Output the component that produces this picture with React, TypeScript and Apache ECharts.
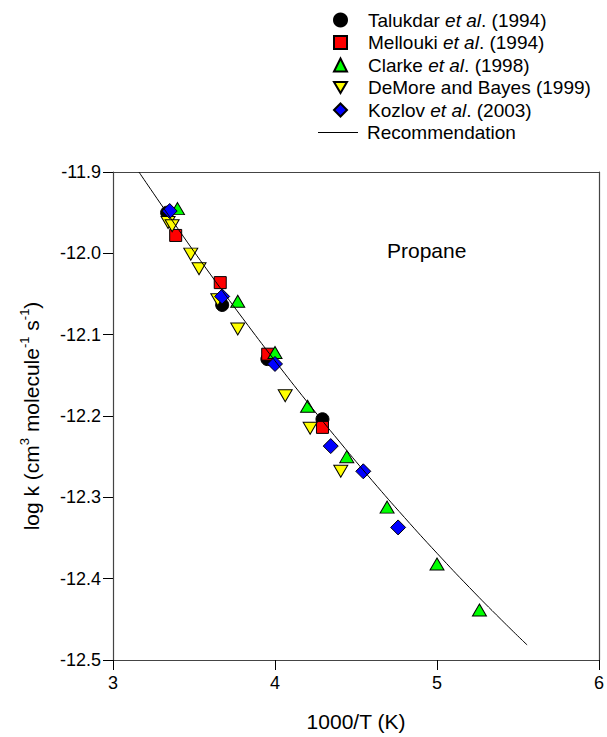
import React, { useEffect, useRef } from "react";
import * as echarts from "echarts";

const FONT = "Liberation Sans";

const talukdarX = [3.334, 3.674, 3.953, 4.293];
const talukdarY = [-11.95, -12.0635, -12.13, -12.204];

const melloukiX = [3.387, 3.662, 3.955, 4.293];
const melloukiY = [-11.978, -12.036, -12.124, -12.214];

const clarkeX = [3.398, 3.77, 4.0, 4.201, 4.443, 4.692, 5.0, 5.262];
const clarkeY = [-11.945, -12.059, -12.122, -12.188, -12.25, -12.312, -12.382, -12.4385];

const demoreX = [3.34, 3.365, 3.48, 3.531, 3.647, 3.77, 4.063, 4.217, 4.406];
const demoreY = [-11.962, -11.966, -12.001, -12.019, -12.057, -12.093, -12.175, -12.215, -12.268];

const kozlovX = [3.35, 3.674, 4.0, 4.344, 4.545, 4.76];
const kozlovY = [-11.948, -12.053, -12.136, -12.237, -12.268, -12.337];

const recX = [3.16, 3.4, 3.6, 3.8, 4.0, 4.2, 4.4, 4.6, 4.8, 5.0, 5.2, 5.4, 5.557];
const recY = [-11.9, -11.9695, -12.0255, -12.0797, -12.1322, -12.183, -12.232, -12.2794, -12.3249, -12.3687, -12.4108, -12.4511, -12.4816];

const xTicks = { min: 3, max: 6, interval: 1 };
const yTicks = { min: -12.5, max: -11.9, interval: 0.1 };

const seriesNames = [
  "Talukdar et al. (1994)",
  "Mellouki et al. (1994)",
  "Clarke et al. (1998)",
  "DeMore and Bayes (1999)",
  "Kozlov et al. (2003)",
  "Recommendation",
];

const zip = (xs: number[], ys: number[]) => xs.map((x, i) => [x, ys[i]]);

export default function App() {
  const ref = useRef<HTMLDivElement>(null);
  useEffect(() => {
    if (!ref.current) return;
    const chart = echarts.init(ref.current, null, { renderer: "svg" });
    const legendText = (padLeft: number) => ({
      fontFamily: FONT,
      fontSize: 19,
      color: "#000",
      lineHeight: 20,
      padding: [0, 0, 0, padLeft],
      rich: {
        i: { fontFamily: FONT, fontSize: 19, fontStyle: "italic", color: "#000" },
      },
    });
    const sym = (color: string) => ({ color, borderColor: "#000", borderWidth: 1, opacity: 1 });
    chart.setOption({
      animation: false,
      backgroundColor: "#fff",
      textStyle: { fontFamily: FONT },
      grid: { left: 113, right: 6, top: 172, bottom: 77, containLabel: false },
      legend: [
        {
          orient: "vertical",
          left: 328,
          top: 5,
          itemWidth: 13,
          itemHeight: 13,
          itemGap: 2.5,
          data: seriesNames.slice(0, 5),
          textStyle: legendText(16),
          formatter: (name: string) => name.replace("et al", "{i|et al}"),
        },
        {
          orient: "vertical",
          left: 313,
          top: 5 + 5 * 22.5,
          itemWidth: 40,
          itemHeight: 1,
          data: [{ name: seriesNames[5], icon: "rect" }],
          textStyle: legendText(4),
        },
      ],
      xAxis: [
        {
          type: "value",
          min: xTicks.min,
          max: xTicks.max,
          interval: xTicks.interval,
          name: "1000/T (K)",
          nameLocation: "middle",
          nameGap: 51,
          nameTextStyle: { fontFamily: FONT, fontSize: 21, color: "#000" },
          axisLine: { show: true, onZero: false, lineStyle: { color: "#444", width: 1.2 } },
          axisTick: { show: true, inside: false, length: 10, lineStyle: { color: "#000", width: 1 } },
          axisLabel: { fontFamily: FONT, fontSize: 18, color: "#000", margin: 14 },
          splitLine: { show: false },
        },
        {
          type: "value",
          position: "top",
          min: xTicks.min,
          max: xTicks.max,
          axisLine: { show: true, onZero: false, lineStyle: { color: "#444", width: 1.2 } },
          axisTick: { show: false },
          axisLabel: { show: false },
          splitLine: { show: false },
        },
      ],
      yAxis: [
        {
          type: "value",
          min: yTicks.min,
          max: yTicks.max,
          interval: yTicks.interval,
          name: "{a|log k (cm}{s|3}{a| molecule}{s|-1}{a| s}{s|-1}{a|)}",
          nameLocation: "middle",
          nameGap: 71,
          nameRotate: 90,
          nameTextStyle: {
            fontFamily: FONT,
            color: "#000",
            rich: {
              a: { fontFamily: FONT, fontSize: 21, lineHeight: 24, verticalAlign: "bottom", color: "#000" },
              s: { fontFamily: FONT, fontSize: 13, lineHeight: 13, verticalAlign: "top", color: "#000" },
            },
          },
          axisLine: { show: true, onZero: false, lineStyle: { color: "#444", width: 1.2 } },
          axisTick: { show: true, inside: false, length: 10, lineStyle: { color: "#000", width: 1 } },
          axisLabel: {
            fontFamily: FONT,
            fontSize: 18,
            color: "#000",
            margin: 12,
            formatter: (v: number) => v.toFixed(1),
          },
          splitLine: { show: false },
        },
        {
          type: "value",
          position: "right",
          min: yTicks.min,
          max: yTicks.max,
          axisLine: { show: true, onZero: false, lineStyle: { color: "#444", width: 1.2 } },
          axisTick: { show: false },
          axisLabel: { show: false },
          splitLine: { show: false },
        },
      ],
      graphic: [
        {
          type: "text",
          left: 387,
          top: 240,
          style: { text: "Propane", fontFamily: FONT, fontSize: 21, fill: "#000" },
        },
      ],
      series: [
        {
          type: "scatter",
          name: seriesNames[0],
          symbol: "circle",
          symbolSize: 13,
          itemStyle: sym("#000"),
          data: zip(talukdarX, talukdarY),
        },
        {
          type: "scatter",
          name: seriesNames[1],
          symbol: "rect",
          symbolSize: 12,
          itemStyle: sym("#ff0000"),
          data: zip(melloukiX, melloukiY),
        },
        {
          type: "scatter",
          name: seriesNames[2],
          symbol: "triangle",
          symbolSize: [14, 12],
          itemStyle: sym("#00ff00"),
          data: zip(clarkeX, clarkeY),
        },
        {
          type: "scatter",
          name: seriesNames[3],
          symbol: "path://M0,0L14,0L7,12Z",
          symbolSize: [14, 12],
          itemStyle: sym("#ffff00"),
          data: zip(demoreX, demoreY),
        },
        {
          type: "scatter",
          name: seriesNames[4],
          symbol: "diamond",
          symbolSize: [15, 15],
          itemStyle: sym("#0000ff"),
          data: zip(kozlovX, kozlovY),
        },
        {
          type: "line",
          name: seriesNames[5],
          symbol: "none",
          smooth: true,
          lineStyle: { color: "#000", width: 1 },
          itemStyle: { color: "#000" },
          z: 5,
          data: zip(recX, recY),
        },
      ],
    });
    return () => chart.dispose();
  }, []);
  return (
    <div
      ref={ref}
      style={{ position: "fixed", left: 0, top: 0, width: 607, height: 737, background: "#fff" }}
    />
  );
}
